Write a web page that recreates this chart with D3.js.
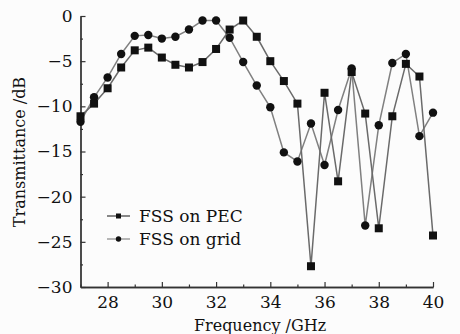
<!DOCTYPE html>
<html><head><meta charset="utf-8">
<script src="https://cdn.jsdelivr.net/npm/d3@7"></script>
<style>body{margin:0;background:#fcfcfc;}svg{display:block;} svg text{font-family:"DejaVu Serif",serif !important;}</style>
</head><body>
<script>
const freq = [27,27.5,28,28.5,29,29.5,30,30.5,31,31.5,32,32.5,33,33.5,34,34.5,35,35.5,36,36.5,37,37.5,38,38.5,39,39.5,40];
const pec  = [-11.1,-9.7,-8.0,-5.7,-3.8,-3.5,-4.6,-5.4,-5.7,-5.1,-3.65,-1.5,-0.5,-2.3,-5.0,-7.2,-9.7,-27.7,-8.5,-18.3,-6.2,-10.8,-23.5,-11.1,-5.3,-6.7,-24.3];
const grid = [-11.7,-9.0,-6.8,-4.2,-2.2,-2.1,-2.5,-2.3,-1.5,-0.5,-0.5,-2.4,-5.1,-7.7,-10.1,-15.1,-16.1,-11.9,-16.5,-10.4,-5.8,-23.2,-12.1,-5.2,-4.2,-13.3,-10.7];
const xTicks = [28,30,32,34,36,38,40];
const yTicks = [0,-5,-10,-15,-20,-25,-30];
const seriesNames = ["FSS on PEC","FSS on grid"];

const W=460,H=334;
const svg=d3.select("body").append("svg").attr("width",W).attr("height",H).style("background","#fcfcfc");
const x=d3.scaleLinear().domain([27,40]).range([80.5,433]);
const y=d3.scaleLinear().domain([0,-30]).range([16,287]);
const fs=17;

// axes
const gx=svg.append("g").attr("transform","translate(0,287)");
gx.call(d3.axisBottom(x).tickValues(xTicks).tickSizeInner(-5).tickSizeOuter(0).tickPadding(9).tickFormat(d3.format("d")));
gx.append("g").call(d3.axisBottom(x).tickValues(d3.range(27,41,1).filter(v=>v%2)).tickSizeInner(-2.5).tickSizeOuter(0).tickFormat(""));
const gy=svg.append("g").attr("transform","translate(80.5,0)");
gy.call(d3.axisLeft(y).tickValues(yTicks).tickSizeInner(-5).tickSizeOuter(0).tickPadding(8).tickFormat(d=>d===0?"0":"\u2212"+Math.abs(d)));
gy.append("g").call(d3.axisLeft(y).tickValues(d3.range(-2.5,-30,-5)).tickSizeInner(-2.5).tickSizeOuter(0).tickFormat(""));
svg.selectAll(".domain").attr("stroke","#333").attr("stroke-width",1.3);
svg.selectAll(".tick line").attr("stroke","#333").attr("stroke-width",1.2);
svg.selectAll(".tick text").attr("font-size",fs).attr("fill","#111");
gx.selectAll(".tick text").attr("dy","0.72em");

// titles
svg.append("text").attr("x",260).attr("y",331).attr("text-anchor","middle").attr("font-size",16).attr("fill","#111").text("Frequency /GHz");
svg.append("text").attr("transform","translate(25,152) rotate(-90)").attr("text-anchor","middle").attr("font-size",16).attr("fill","#111").text("Transmittance /dB");

const line=d3.line().x(d=>x(d[0])).y(d=>y(d[1]));
const dPec=freq.map((f,i)=>[f,pec[i]]);
const dGrid=freq.map((f,i)=>[f,grid[i]]);

svg.append("path").datum(dGrid).attr("d",line).attr("fill","none").attr("stroke","#808080").attr("stroke-width",1.5);
svg.append("path").datum(dPec).attr("d",line).attr("fill","none").attr("stroke","#6a6a6a").attr("stroke-width",1.5);
svg.selectAll(".c").data(dGrid).enter().append("circle").attr("cx",d=>x(d[0])).attr("cy",d=>y(d[1])).attr("r",4.2).attr("fill","#111");
svg.selectAll(".s").data(dPec).enter().append("rect").attr("x",d=>x(d[0])-4).attr("y",d=>y(d[1])-4).attr("width",8).attr("height",8).attr("fill","#111");

// legend
const lg=svg.append("g");
const ly=[216,239];
lg.append("line").attr("x1",107).attr("x2",130).attr("y1",ly[0]).attr("y2",ly[0]).attr("stroke","#555").attr("stroke-width",1.4);
lg.append("rect").attr("x",116).attr("y",ly[0]-2.5).attr("width",5).attr("height",5).attr("fill","#111");
lg.append("line").attr("x1",107).attr("x2",130).attr("y1",ly[1]).attr("y2",ly[1]).attr("stroke","#999").attr("stroke-width",1.4);
lg.append("circle").attr("cx",118.5).attr("cy",ly[1]).attr("r",2.7).attr("fill","#111");
lg.selectAll("text").data(seriesNames).enter().append("text").attr("x",139).attr("y",(d,i)=>ly[i]+6).attr("font-size",fs).attr("fill","#111").text(d=>d);
</script>
</body></html>
